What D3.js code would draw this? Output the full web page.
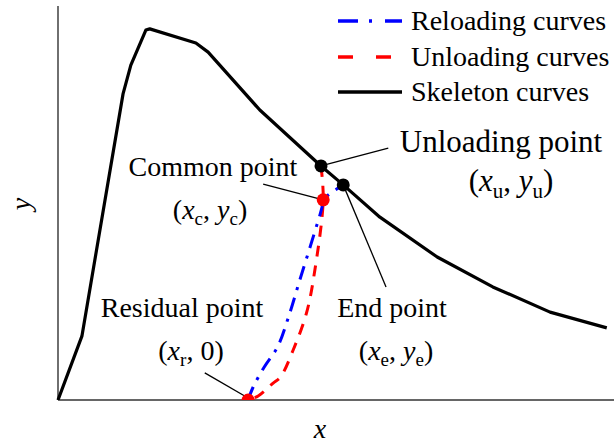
<!DOCTYPE html>
<html><head><meta charset="utf-8">
<script src="https://cdn.jsdelivr.net/npm/d3@7"></script>
<style>html,body{margin:0;padding:0;background:#fff;}svg{display:block;}</style>
</head><body>
<svg id="chart" width="614" height="443"></svg>
<script>
// ---- data (normalized units, x: 0..10, y: 0..10) ----
const skeletonX = [0, 0.43, 1.17, 1.31, 1.58, 1.65, 2.48, 2.70, 3.63, 4.73, 5.13, 5.79, 6.82, 7.82, 8.85, 9.87];
const skeletonY = [0, 1.62, 7.77, 8.50, 9.39, 9.42, 9.06, 8.83, 7.36, 5.94, 5.46, 4.64, 3.63, 2.87, 2.23, 1.83];
const reloadX = [3.42, 3.51, 3.71, 3.95, 4.14, 4.35, 4.59, 4.75, 4.77, 5.13];
const reloadY = [0.00, 0.33, 0.84, 1.35, 2.08, 3.05, 4.14, 4.90, 5.08, 5.46];
const unloadX = [4.73, 4.77, 4.62, 4.47, 4.23, 4.00, 3.87, 3.60, 3.42];
const unloadY = [5.94, 5.08, 3.30, 2.21, 1.27, 0.58, 0.43, 0.10, 0.00];
const pointNames = ["Unloading point", "End point", "Common point", "Residual point"];
const pointX = [4.73, 5.13, 4.77, 3.42];
const pointY = [5.94, 5.46, 5.08, 0.00];
const pointColors = ["#000", "#000", "#ff0000", "#ff0000"];
const legendLabels = ["Reloading curves", "Unloading curves", "Skeleton curves"];
const legendColors = ["#0000ff", "#ff0000", "#000000"];
const axisLabels = ["x", "y"];

const svg = d3.select("#chart");
const font = "Liberation Serif";
const FS = 28, SUB = 19;
const x = d3.scaleLinear().domain([0, 10]).range([58, 614]);
const y = d3.scaleLinear().domain([0, 10]).range([400, 6]);

svg.append("defs").append("clipPath").attr("id", "clip")
  .append("rect").attr("x", 0).attr("y", 0).attr("width", 614).attr("height", y(0));

// axes (plain lines, no ticks)
svg.append("line").attr("x1", x(0)).attr("x2", x(0)).attr("y1", y(10)).attr("y2", y(0))
  .attr("stroke", "#333").attr("stroke-width", 1.4);
svg.append("line").attr("x1", x(0)).attr("x2", x(10)).attr("y1", y(0)).attr("y2", y(0))
  .attr("stroke", "#333").attr("stroke-width", 1.4);

const toPts = (xs, ys) => xs.map((v, i) => [v, ys[i]]);
const lineLin = d3.line().x(d => x(d[0])).y(d => y(d[1]));
const lineSmooth = d3.line().x(d => x(d[0])).y(d => y(d[1])).curve(d3.curveCatmullRom.alpha(0.5));

const g = svg.append("g").attr("clip-path", "url(#clip)");

// skeleton
g.append("path").attr("d", lineLin(toPts(skeletonX, skeletonY)))
  .attr("fill", "none").attr("stroke", "#000").attr("stroke-width", 3.2).attr("stroke-linejoin", "round");
// unloading (red dashed)
g.append("path").attr("d", lineSmooth(toPts(unloadX, unloadY)))
  .attr("fill", "none").attr("stroke", "#ff0000").attr("stroke-width", 3).attr("stroke-dasharray", "11,9");
// reloading (blue dash-dot)
g.append("path").attr("d", lineSmooth(toPts(reloadX, reloadY)))
  .attr("fill", "none").attr("stroke", "#0000ff").attr("stroke-width", 3).attr("stroke-dasharray", "14,8,3,8");

// leader lines
const leaders = [
  [[4.73, 5.94], [5.94, 6.39]],
  [[5.13, 5.46], [5.90, 2.87]],
  [[4.77, 5.08], [3.69, 5.48]],
  [[3.42, 0.05], [2.64, 0.69]]
];
leaders.forEach(l => {
  svg.append("line").attr("x1", x(l[0][0])).attr("y1", y(l[0][1]))
    .attr("x2", x(l[1][0])).attr("y2", y(l[1][1]))
    .attr("stroke", "#000").attr("stroke-width", 1.3);
});

// points
const pg = svg.append("g").attr("clip-path", "url(#clip)");
pointX.forEach((px, i) => {
  pg.append("circle").attr("cx", x(px)).attr("cy", y(pointY[i])).attr("r", 6.5)
    .attr("fill", pointColors[i]);
});

// annotation text
function txt(tx, ty, anchor, fs) {
  return svg.append("text").attr("x", tx).attr("y", ty).attr("text-anchor", anchor || "middle")
    .style("font-family", font).style("font-size", (fs || FS) + "px").attr("fill", "#000");
}
function label(tx, ty, s, fs) { txt(tx, ty, "middle", fs).text(s); }
function coord(tx, ty, v1, s1, v2, s2, fs) {
  const f = fs || FS, sub = Math.round(f * 0.68), dy = Math.round(f * 0.22);
  const t = txt(tx, ty, "middle", f);
  t.append("tspan").text("(");
  t.append("tspan").style("font-style", "italic").text(v1);
  t.append("tspan").style("font-size", sub + "px").attr("dy", dy).text(s1);
  t.append("tspan").attr("dy", -dy).text(", ");
  if (s2) {
    t.append("tspan").style("font-style", "italic").text(v2);
    t.append("tspan").style("font-size", sub + "px").attr("dy", dy).text(s2);
    t.append("tspan").attr("dy", -dy).text(")");
  } else {
    t.append("tspan").text(v2 + ")");
  }
}
label(501, 152, pointNames[0], 31);
coord(511, 191, "x", "u", "y", "u", 31);
label(213, 176, pointNames[2]);
coord(210, 219, "x", "c", "y", "c");
label(392, 317, pointNames[1]);
coord(396, 360, "x", "e", "y", "e");
label(182, 317, pointNames[3]);
coord(191, 360, "x", "r", "0", null);

// legend
const legY = [21, 57, 92];
const legDash = ["20,11,3,13", "15,23", null];
legendLabels.forEach((lab, i) => {
  const ln = svg.append("line").attr("x1", 338).attr("x2", 402).attr("y1", legY[i]).attr("y2", legY[i])
    .attr("stroke", legendColors[i]).attr("stroke-width", 3.5);
  if (legDash[i]) ln.attr("stroke-dasharray", legDash[i]);
  txt(411, legY[i] + 9, "start").text(lab);
});

// axis labels
txt(320, 438, "middle").style("font-style", "italic").text(axisLabels[0]);
svg.append("text").attr("transform", "translate(30,204) rotate(-90)").attr("text-anchor", "middle")
  .style("font-family", font).style("font-style", "italic").style("font-size", FS + "px").text(axisLabels[1]);
</script>
</body></html>
